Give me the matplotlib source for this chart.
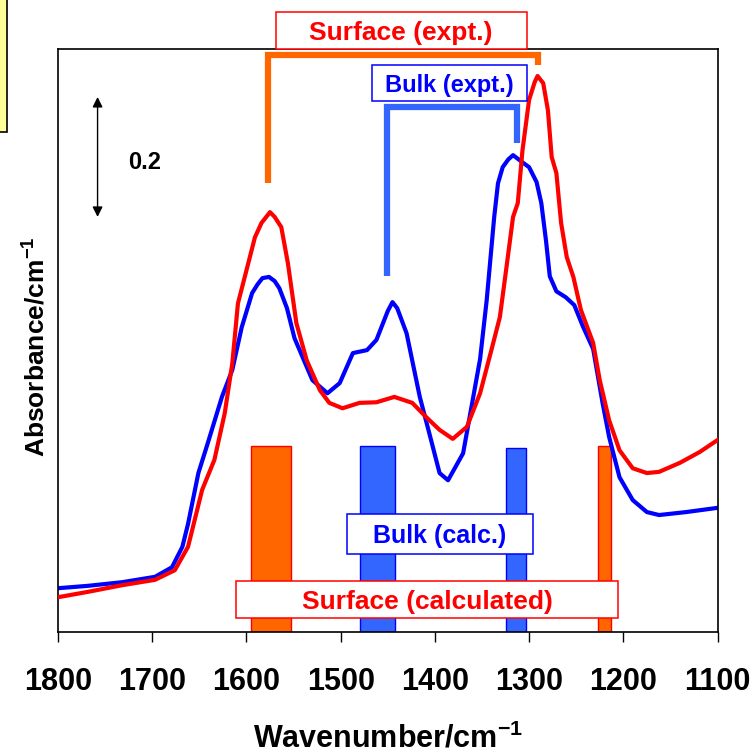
import matplotlib
matplotlib.use('Agg')
import matplotlib.pyplot as plt
from matplotlib.patches import Rectangle

plt.rcParams['font.family'] = 'Liberation Sans'
plt.rcParams['font.weight'] = 'bold'
plt.rcParams['mathtext.fontset'] = 'custom'
plt.rcParams['mathtext.rm'] = 'Liberation Sans:bold'
plt.rcParams['mathtext.bf'] = 'Liberation Sans:bold'
plt.rcParams['mathtext.default'] = 'bf'

# Bulk (expt.) spectrum - blue
bulk_wn = [1800, 1768, 1732, 1697, 1679, 1668, 1662, 1651, 1641, 1626, 1615, 1605,
           1594, 1588, 1583, 1576, 1570, 1565, 1557, 1549, 1530, 1514, 1501, 1487, 1472, 1462,
           1450, 1445, 1440, 1430, 1416, 1406, 1395, 1386, 1370, 1352, 1345, 1337, 1333, 1328,
           1322, 1317, 1307, 1300, 1292, 1287, 1282, 1278, 1271, 1261, 1252, 1243,
           1232, 1222, 1215, 1204, 1190, 1175, 1162, 1133, 1100]
bulk_abs = [0.073, 0.077, 0.083, 0.092, 0.108, 0.142, 0.180, 0.265, 0.315, 0.392, 0.437, 0.508,
            0.565, 0.580, 0.590, 0.592, 0.585, 0.573, 0.540, 0.490, 0.420, 0.398, 0.415, 0.465, 0.470, 0.487,
            0.535, 0.550, 0.540, 0.498, 0.392, 0.332, 0.265, 0.253, 0.298, 0.455, 0.553, 0.692, 0.748, 0.775,
            0.788, 0.795, 0.783, 0.775, 0.750, 0.715, 0.652, 0.593, 0.568, 0.558, 0.545, 0.510,
            0.472, 0.382, 0.325, 0.258, 0.220, 0.200, 0.195, 0.200, 0.207]

# Surface (expt.) spectrum - red
surf_wn = [1800, 1768, 1732, 1697, 1676, 1662, 1647, 1634, 1623, 1615, 1609, 1598,
           1591, 1584, 1575, 1570, 1563, 1556, 1547, 1536, 1522, 1512, 1498, 1480, 1462, 1443,
           1424, 1409, 1395, 1381, 1366, 1352, 1340, 1331, 1324, 1317, 1312, 1307,
           1300, 1294, 1291, 1285, 1280, 1276, 1271, 1266, 1260, 1253, 1245, 1232,
           1225, 1215, 1204, 1190, 1175, 1162, 1140, 1119, 1100]
surf_abs = [0.058, 0.067, 0.078, 0.087, 0.103, 0.142, 0.237, 0.287, 0.365, 0.448, 0.548, 0.615,
            0.658, 0.682, 0.700, 0.692, 0.675, 0.615, 0.515, 0.453, 0.403, 0.382, 0.373, 0.382, 0.383, 0.392,
            0.382, 0.358, 0.337, 0.322, 0.342, 0.398, 0.470, 0.525, 0.608, 0.692, 0.715, 0.803,
            0.887, 0.917, 0.927, 0.915, 0.870, 0.792, 0.765, 0.682, 0.625, 0.592, 0.537, 0.482,
            0.420, 0.353, 0.303, 0.273, 0.265, 0.267, 0.282, 0.300, 0.320]

# calculated bands (sticks)
calc_surf_pos = [1574, 1220]
calc_surf_width = [42, 14]
calc_surf_height = [0.31, 0.31]
calc_bulk_pos = [1461, 1314]
calc_bulk_width = [37, 21]
calc_bulk_height = [0.31, 0.307]

xticks = [1800, 1700, 1600, 1500, 1400, 1300, 1200, 1100]

fig = plt.figure(figsize=(7.53, 7.55), dpi=100)
ax = fig.add_axes([58 / 753, 1 - 632 / 755, (717.5 - 58) / 753, (632 - 49) / 755])

ax.bar(calc_surf_pos, calc_surf_height, width=calc_surf_width, color='#FF6600',
       edgecolor='#FF0000', linewidth=1, zorder=1)
ax.bar(calc_bulk_pos, calc_bulk_height, width=calc_bulk_width, color='#3366FF',
       edgecolor='#0000FF', linewidth=1, zorder=1)

ax.plot(bulk_wn, bulk_abs, color='#0000FF', lw=3, solid_joinstyle='round', zorder=2)
ax.plot(surf_wn, surf_abs, color='#FF0000', lw=3, solid_joinstyle='round', zorder=3)

# peak brackets
ax.plot([1577, 1577, 1291, 1291], [0.748, 0.962, 0.962, 0.945], color='#FF6600', lw=4.5,
        solid_joinstyle='miter', solid_capstyle='butt', clip_on=False, zorder=4)
ax.plot([1451, 1451, 1313, 1313], [0.593, 0.875, 0.875, 0.815], color='#3366FF', lw=4.5,
        solid_joinstyle='miter', solid_capstyle='butt', zorder=4)


def label_box(x0, x1, y0, y1, text, color, size):
    ax.add_patch(Rectangle((x1, y0), x0 - x1, y1 - y0, facecolor='white', edgecolor=color,
                           linewidth=1.1, clip_on=False, zorder=5))
    ax.text((x0 + x1) / 2, (y0 + y1) / 2, text, color=color, fontsize=size, fontweight='bold',
            ha='center', va='center_baseline', zorder=6, clip_on=False)


label_box(1568.8, 1302.7, 0.972, 1.033, 'Surface (expt.)', '#FF0000', 19)
label_box(1467, 1302.7, 0.885, 0.945, 'Bulk (expt.)', '#0000FF', 17)
label_box(1493.5, 1296.3, 0.130, 0.197, 'Bulk (calc.)', '#0000FF', 18)
label_box(1611.2, 1205.1, 0.023, 0.085, 'Surface (calculated)', '#FF0000', 19)

# scale bar
ax.annotate('', xy=(1758, 0.892), xytext=(1758, 0.692),
            arrowprops=dict(arrowstyle='<|-|>,head_length=0.6,head_width=0.3',
                            color='black', lw=1, shrinkA=0, shrinkB=0, mutation_scale=10))
ax.text(1708, 0.782, '0.2', fontsize=17, fontweight='bold', ha='center', va='center')

ax.set_xlim(1800, 1100)
ax.set_ylim(0, 0.972)
ax.set_xticks(xticks)
ax.set_xticklabels([str(t) for t in xticks])
ax.set_yticks([])
ax.tick_params(axis='x', direction='out', length=7.2, width=1, pad=18, labelsize=22)
for s in ax.spines.values():
    s.set_linewidth(1.2)

ax.set_xlabel(r'Wavenumber/cm$^{-1}$', fontsize=22, fontweight='bold')
ax.xaxis.set_label_coords(0.5, -0.156)
ax.xaxis.label.set_va('top')
ax.set_ylabel(r'Absorbance/cm$^{-1}$', fontsize=19, fontweight='bold')
ax.yaxis.set_label_coords(-0.012, 0.49)

# yellow note box cut off at the top-left corner
fig.patches.append(Rectangle((-0.01, 1 - 132 / 755), 0.01 + 7 / 753, 0.2, transform=fig.transFigure,
                             facecolor='#FFFF99', edgecolor='black', linewidth=1.2, figure=fig))

fig.savefig('out.png', dpi=100)
